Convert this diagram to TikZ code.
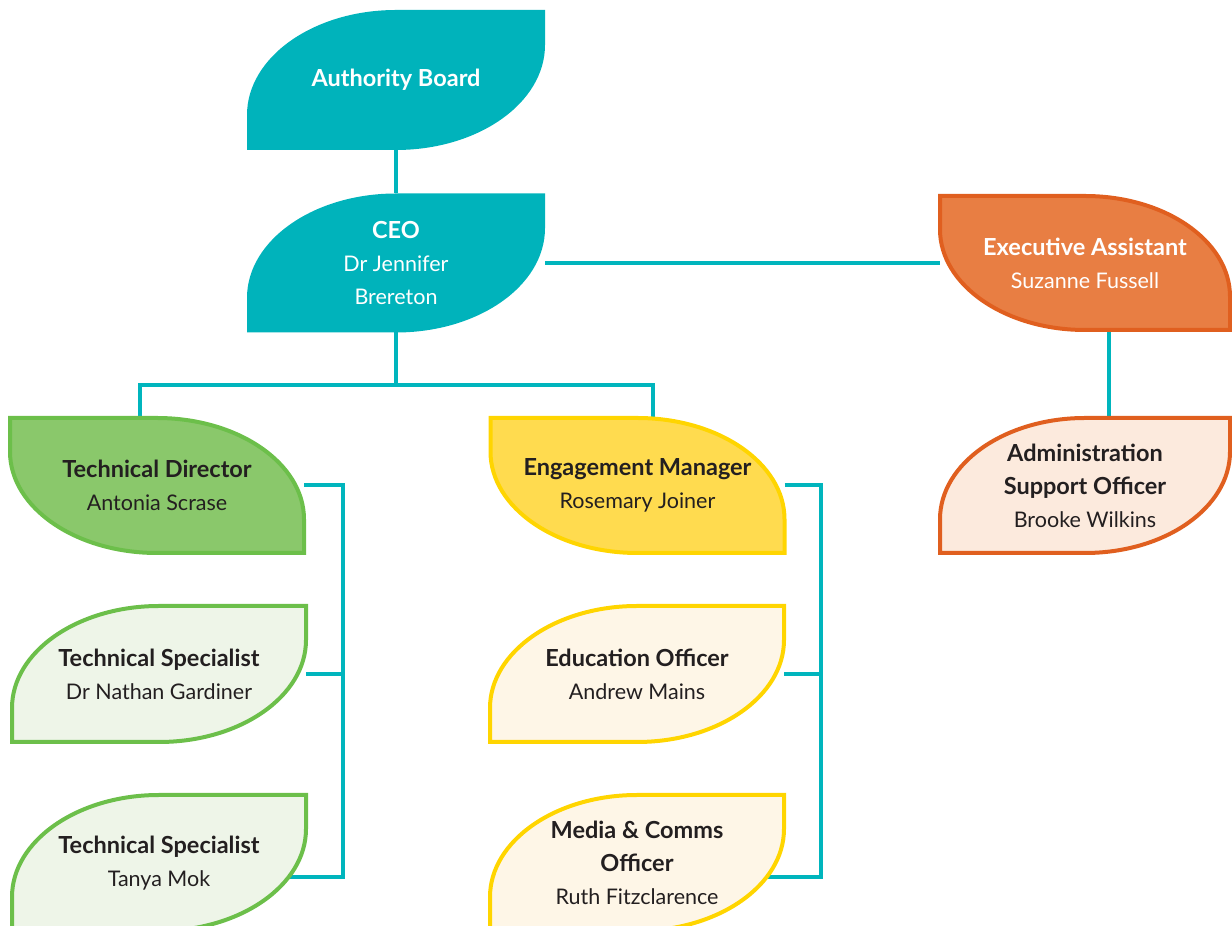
\documentclass[tikz,border=0pt]{standalone}
\usepackage{fontspec}
\setmainfont{Lato}
\usetikzlibrary{backgrounds,calc}

\definecolor{boardteal}{RGB}{0,179,187}
\definecolor{lineteal}{RGB}{0,181,189}
\definecolor{textdark}{RGB}{35,31,32}
\definecolor{orangefill}{RGB}{232,126,67}
\definecolor{orangeline}{RGB}{224,95,31}
\definecolor{orangelight}{RGB}{252,234,221}
\definecolor{greenfill}{RGB}{138,200,107}
\definecolor{greenline}{RGB}{108,191,74}
\definecolor{greenlight}{RGB}{238,245,232}
\definecolor{yellowfill}{RGB}{255,219,79}
\definecolor{yellowline}{RGB}{255,213,0}
\definecolor{yellowlight}{RGB}{254,246,231}

\newcommand{\rolehead}[1]{{\fontsize{23.5}{33}\selectfont\bfseries #1}}

\tikzset{
	role/.style={inner sep=0pt, outer sep=0pt, minimum width=294pt, minimum height=136pt,
		align=center, text=textdark, font=\fontsize{21.5}{33}\selectfont},
	conn/.style={draw=lineteal, line width=4pt},
	leafteal/.style={fill=boardteal},
	leaforange/.style={fill=orangefill, draw=orangeline, line width=4pt},
	leafpeach/.style={fill=orangelight, draw=orangeline, line width=4pt},
	leafgreen/.style={fill=greenfill, draw=greenline, line width=4pt},
	leafmint/.style={fill=greenlight, draw=greenline, line width=4pt},
	leafyellow/.style={fill=yellowfill, draw=yellowline, line width=4pt},
	leafcream/.style={fill=yellowlight, draw=yellowline, line width=4pt}
}

% leaf with round top-left and bottom-right corners
\newcommand{\leafup}[2]{%
	\path[#2] let \p1=(#1.south west), \p2=(#1.north east),
		\n1={0.5*(\x2-\x1)}, \n2={0.75*(\y2-\y1)} in
		(\x1,\y1) -- (\x1,\y2-\n2)
		.. controls (\x1,\y2-0.448*\n2) and (\x1+0.448*\n1,\y2) .. (\x1+\n1,\y2)
		-- (\x2,\y2) -- (\x2,\y1+\n2)
		.. controls (\x2,\y1+0.448*\n2) and (\x2-0.448*\n1,\y1) .. (\x2-\n1,\y1)
		-- cycle;}
% leaf with round top-right and bottom-left corners
\newcommand{\leafdown}[2]{%
	\path[#2] let \p1=(#1.south west), \p2=(#1.north east),
		\n1={0.5*(\x2-\x1)}, \n2={0.75*(\y2-\y1)} in
		(\x1,\y2) -- (\x1+\n1,\y2)
		.. controls (\x2-0.448*\n1,\y2) and (\x2,\y2-0.448*\n2) .. (\x2,\y2-\n2)
		-- (\x2,\y1) -- (\x2-\n1,\y1)
		.. controls (\x1+0.448*\n1,\y1) and (\x1,\y1+0.448*\n2) .. (\x1,\y1+\n2)
		-- cycle;}

\begin{document}
\begin{tikzpicture}[x=1pt, y=1pt]
	\useasboundingbox (0,0) rectangle (1232,926);

	% top
	\node[role, text=white, minimum width=298pt, minimum height=140pt] (board) at (396,846) {\rolehead{Authority Board}};
	\node[role, text=white, minimum width=298pt, minimum height=139pt] (ceo) at (396,663) {\rolehead{CEO}\\Dr Jennifer\\Brereton};
	\node[role, text=white, minimum width=290pt, minimum height=134pt] (ea) at (1085,663) {\rolehead{Executive Assistant}\\Suzanne Fussell};
	\node[role, minimum width=290pt, minimum height=135pt] (aso) at (1085,440.5) {\rolehead{Administration}\\\rolehead{Support Officer}\\Brooke Wilkins};

	% technical
	\node[role, minimum height=135pt] (td) at (157,440.5) {\rolehead{Technical Director}\\Antonia Scrase};
	\node[role] (ts1) at (159,252) {\rolehead{Technical Specialist}\\Dr Nathan Gardiner};
	\node[role] (ts2) at (159,63) {\rolehead{Technical Specialist}\\Tanya Mok};

	% engagement
	\node[role, minimum height=135pt] (em) at (637.5,440.5) {\rolehead{Engagement Manager}\\Rosemary Joiner};
	\node[role] (eo) at (637,252) {\rolehead{Education Officer}\\Andrew Mains};
	\node[role] (mc) at (637,63) {\rolehead{Media \& Comms}\\\rolehead{Officer}\\Ruth Fitzclarence};

	\coordinate (busT) at (0,541);
	\coordinate (tdin) at (140,508);
	\coordinate (emin) at (653,508);
	\coordinate (busL) at (343,49);
	\coordinate (busR) at (821,49);

	\begin{pgfonlayer}{background}
		\draw[conn] (board) -- (ceo);
		\draw[conn] (ceo) -- (ea);
		\draw[conn] (ceo) -- (ceo |- busT);
		\draw[conn] (tdin) |- (emin |- busT) -- (emin);
		\draw[conn] ([xshift=24pt]ea.center) -- ([xshift=24pt]aso.center);
		\draw[conn] (td) -| (busL) -- (busL -| ts2);
		\draw[conn] (ts1) -- (busL |- ts1);
		\draw[conn] (em) -| (busR) -- (busR -| mc);
		\draw[conn] (eo) -- (busR |- eo);

		\leafup{board}{leafteal}
		\leafup{ceo}{leafteal}
		\leafdown{ea}{leaforange}
		\leafup{aso}{leafpeach}
		\leafdown{td}{leafgreen}
		\leafup{ts1}{leafmint}
		\leafup{ts2}{leafmint}
		\leafdown{em}{leafyellow}
		\leafup{eo}{leafcream}
		\leafup{mc}{leafcream}
	\end{pgfonlayer}
\end{tikzpicture}
\end{document}
